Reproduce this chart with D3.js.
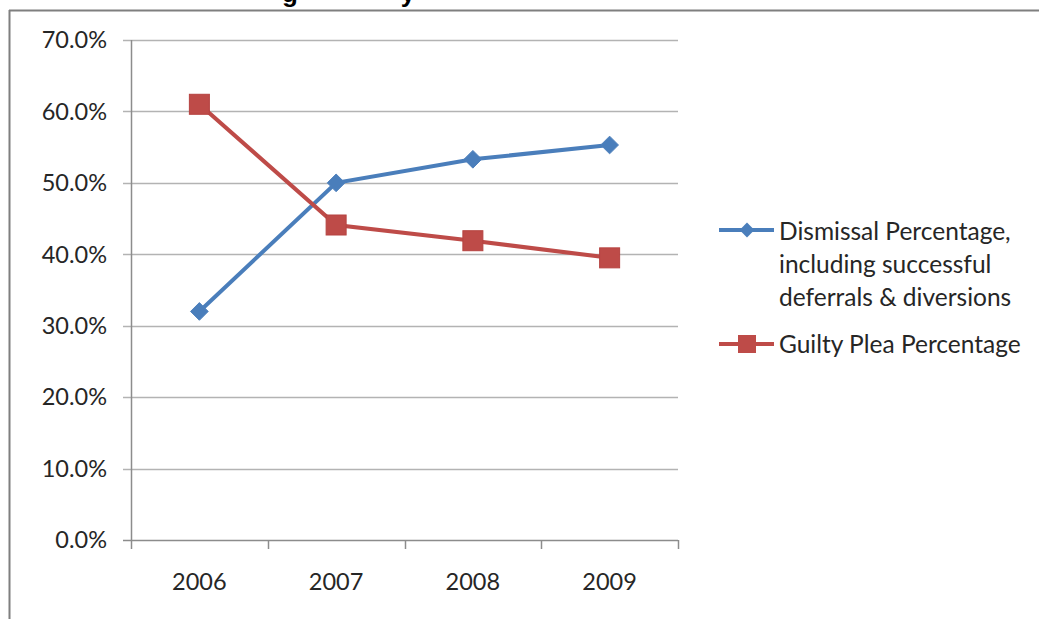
<!DOCTYPE html>
<html><head><meta charset="utf-8">
<script src="https://cdn.jsdelivr.net/npm/d3@7"></script>
<style>body{margin:0;background:#fff}svg{display:block}</style>
</head><body>
<script>
const categories = ["2006","2007","2008","2009"];
const dismissal = [0.320, 0.500, 0.533, 0.553];
const guilty = [0.610, 0.441, 0.419, 0.395];
const yTicks = [0,0.1,0.2,0.3,0.4,0.5,0.6,0.7];
const seriesNames = ["Dismissal Percentage,|including successful|deferrals & diversions", "Guilty Plea Percentage"];

const W=1039,H=619;
const svg=d3.select("body").append("svg").attr("width",W).attr("height",H);
const font="Lato, 'Open Sans', sans-serif";
const txt="#262626";

// outer frame
svg.append("line").attr("x1",9).attr("x2",W).attr("y1",10.5).attr("y2",10.5).attr("stroke","#7f7f7f").attr("stroke-width",2);
svg.append("line").attr("x1",9.5).attr("x2",9.5).attr("y1",10).attr("y2",H).attr("stroke","#7f7f7f").attr("stroke-width",2);
// clipped title descenders (title is cut off at the top in the source)
svg.append("text").attr("x",290).attr("y",2).attr("font-family","'Liberation Sans',Arial,sans-serif").attr("font-weight","bold").attr("font-size",26).attr("text-anchor","middle").text("g");
svg.append("text").attr("x",408).attr("y",2).attr("font-family","'Liberation Sans',Arial,sans-serif").attr("font-weight","bold").attr("font-size",26).attr("text-anchor","middle").text("y");

const x=d3.scaleBand().domain(categories).range([131,678]);
const y=d3.scaleLinear().domain([0,0.7]).range([540,40]);

// gridlines
svg.append("g").selectAll("line").data(yTicks).join("line")
 .attr("x1",123).attr("x2",678).attr("y1",d=>Math.round(y(d))+0.5).attr("y2",d=>Math.round(y(d))+0.5)
 .attr("stroke",d=>d===0?"#8c8c8c":"#b3b3b3").attr("stroke-width",1.5);
// y axis
svg.append("line").attr("x1",131.5).attr("x2",131.5).attr("y1",40).attr("y2",540).attr("stroke","#8c8c8c").attr("stroke-width",1.5);
const fmt=d3.format(".1%");
svg.append("g").selectAll("text").data(yTicks).join("text")
 .attr("x",107).attr("y",d=>y(d)).attr("dy","0.35em").attr("text-anchor","end")
 .attr("font-family",font).attr("font-size",23.5).attr("fill",txt).text(d=>fmt(d));
// x ticks
const bounds=categories.map(c=>x(c)).concat([x.range()[1]]);
svg.append("g").selectAll("line").data(bounds).join("line")
 .attr("x1",d=>Math.round(d)+0.5).attr("x2",d=>Math.round(d)+0.5).attr("y1",540).attr("y2",549)
 .attr("stroke","#8c8c8c").attr("stroke-width",1.5);
svg.append("g").selectAll("text").data(categories).join("text")
 .attr("x",d=>x(d)+x.bandwidth()/2).attr("y",582).attr("dy","0.35em").attr("text-anchor","middle")
 .attr("font-family",font).attr("font-size",23.5).attr("fill",txt).text(d=>d);

const cx=d=>x(d)+x.bandwidth()/2;
const line=d3.line().x((d,i)=>cx(categories[i])).y(d=>y(d));
const blue="#4a7ebb", red="#be4b48";
svg.append("path").attr("d",line(dismissal)).attr("fill","none").attr("stroke",blue).attr("stroke-width",4);
svg.append("path").attr("d",line(guilty)).attr("fill","none").attr("stroke",red).attr("stroke-width",4);
const diamond=d3.symbol().type(d3.symbolDiamond2).size(200);
svg.append("g").selectAll("path").data(dismissal).join("path")
 .attr("transform",(d,i)=>`translate(${cx(categories[i])},${y(d)})`).attr("d",diamond).attr("fill",blue).attr("stroke","#4f81bd").attr("stroke-width",1);
svg.append("g").selectAll("rect").data(guilty).join("rect")
 .attr("x",(d,i)=>cx(categories[i])-10).attr("y",d=>y(d)-10).attr("width",20).attr("height",20)
 .attr("fill",red).attr("stroke","#b64340").attr("stroke-width",1);

// legend
const lg=svg.append("g");
lg.append("line").attr("x1",719).attr("x2",774).attr("y1",230).attr("y2",230).attr("stroke",blue).attr("stroke-width",4);
lg.append("path").attr("transform","translate(747,230)").attr("d",d3.symbol().type(d3.symbolDiamond2).size(140)).attr("fill",blue);
lg.append("line").attr("x1",719).attr("x2",774).attr("y1",344).attr("y2",344).attr("stroke",red).attr("stroke-width",4);
lg.append("rect").attr("x",738).attr("y",335).attr("width",18).attr("height",18).attr("fill",red);
const l1=seriesNames[0].split("|");
lg.selectAll("text.l1").data(l1).join("text").attr("class","l1")
 .attr("x",779).attr("y",(d,i)=>231+i*33).attr("dy","0.35em")
 .attr("font-family",font).attr("font-size",24.5).attr("fill",txt).text(d=>d);
lg.append("text").attr("x",779).attr("y",344).attr("dy","0.35em")
 .attr("font-family",font).attr("font-size",24.5).attr("fill",txt).text(seriesNames[1]);
</script>
</body></html>
